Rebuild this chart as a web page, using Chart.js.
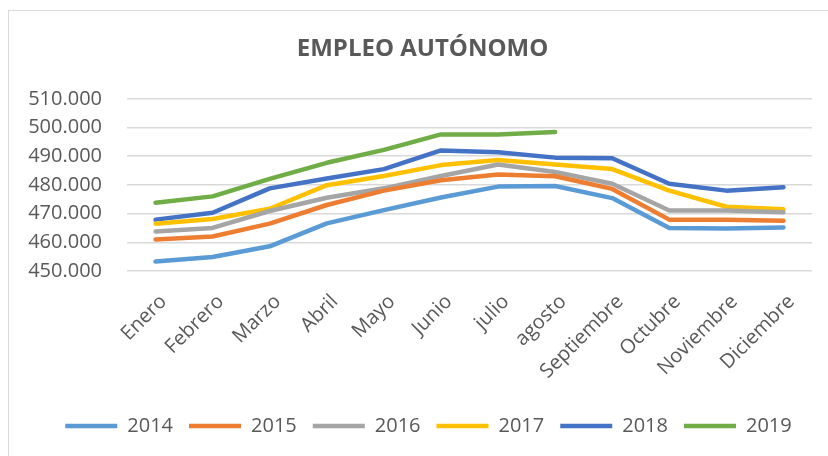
<!DOCTYPE html>
<html>
<head>
<meta charset="utf-8">
<script src="https://cdn.jsdelivr.net/npm/chart.js@4"></script>
<style>
    html, body { margin: 0; padding: 0; background: #fff; overflow: hidden; }
    #frame { position: absolute; left: 8px; top: 10px; width: 840px; height: 460px; border: 1px solid #d9d9d9; }
    #box { position: relative; width: 830px; height: 446px; }
</style>
</head>
<body>
<div id="frame"><div id="box"><canvas id="chart"></canvas></div></div>
<script>
    // Months as they appear on the axis
    const months = ['Enero', 'Febrero', 'Marzo', 'Abril', 'Mayo', 'Junio', 'julio', 'agosto',
        'Septiembre', 'Octubre', 'Noviembre', 'Diciembre'];

    // Values
    const y2014 = [453300, 454900, 458600, 466600, 471200, 475600, 479400, 479600, 475400, 465000, 464800, 465200];
    const y2015 = [461000, 462000, 466500, 473000, 478000, 481600, 483600, 483000, 478600, 467900, 467900, 467500];
    const y2016 = [463800, 465000, 470900, 475500, 478800, 483100, 487100, 484500, 480400, 471100, 471100, 470500];
    const y2017 = [466500, 468100, 471700, 479900, 483100, 486900, 488700, 487100, 485500, 478000, 472400, 471500];
    const y2018 = [467900, 470300, 478800, 482200, 485500, 492000, 491400, 489500, 489300, 480400, 478000, 479200];
    const y2019 = [473800, 476000, 482100, 487700, 492200, 497600, 497600, 498400, null, null, null, null];

    const years = ['2014', '2015', '2016', '2017', '2018', '2019'];
    const colors = ['#5B9BD5', '#ED7D31', '#A5A5A5', '#FFC000', '#4472C4', '#70AD47'];
    const series = [y2014, y2015, y2016, y2017, y2018, y2019];

    const yMin = 450000;
    const yMax = 510000;
    const yStep = 10000;

    const FONT = "'Open Sans', 'Liberation Sans', sans-serif";
    const GREY = '#595959';

    // 510000 -> "510.000"
    function fmt(v) {
        return String(v).replace(/\B(?=(\d{3})+(?!\d))/g, '.');
    }

    let datasets = series.map((data, i) => ({
        label: years[i],
        data: data,
        borderColor: colors[i],
        backgroundColor: colors[i],
        borderWidth: 4.5,
        borderCapStyle: 'round',
        borderJoinStyle: 'round',
        pointRadius: 0,
        pointHoverRadius: 0,
        tension: 0,
        spanGaps: false
    }));

    // the original frame is wider than the window, so title and legend sit a bit right of centre
    const nudge = {
        id: 'nudge',
        afterLayout(chart) {
            chart.titleBlock.left += 12;
            chart.titleBlock.right += 12;
            chart.legend.left += 18;
            chart.legend.right += 18;
        }
    };

    new Chart(document.getElementById('chart'), {
        type: 'line',
        data: { labels: months, datasets: datasets },
        plugins: [nudge],
        options: {
            responsive: true,
            maintainAspectRatio: false,
            animation: false,
            layout: { padding: { top: 0, right: 27, bottom: 11, left: 0 } },
            plugins: {
                title: {
                    display: true,
                    text: 'EMPLEO AUTÓNOMO',
                    color: GREY,
                    font: { family: FONT, size: 24, weight: 'bold', lineHeight: 1.2 },
                    padding: { top: 24, bottom: 35 }
                },
                legend: {
                    position: 'bottom',
                    labels: {
                        usePointStyle: true,
                        pointStyle: 'line',
                        pointStyleWidth: 52,
                        color: GREY,
                        font: { family: FONT, size: 20 },
                        padding: 16
                    }
                },
                tooltip: { enabled: false }
            },
            scales: {
                x: {
                    offset: true,
                    grid: { display: false, drawTicks: false },
                    border: { display: false },
                    ticks: {
                        color: GREY,
                        font: { family: FONT, size: 20 },
                        minRotation: 45,
                        maxRotation: 45,
                        padding: 19,
                        labelOffset: 8,
                        autoSkip: false
                    },
                    afterFit: function (scale) { scale.height = 129; }
                },
                y: {
                    min: yMin,
                    max: yMax,
                    grid: { color: '#d9d9d9', lineWidth: 1.5, drawTicks: false },
                    border: { display: false },
                    ticks: {
                        stepSize: yStep,
                        color: GREY,
                        font: { family: FONT, size: 20 },
                        padding: 25,
                        callback: v => fmt(v)
                    },
                    afterFit: function (scale) { scale.width = 118; }
                }
            }
        }
    });
</script>
</body>
</html>
